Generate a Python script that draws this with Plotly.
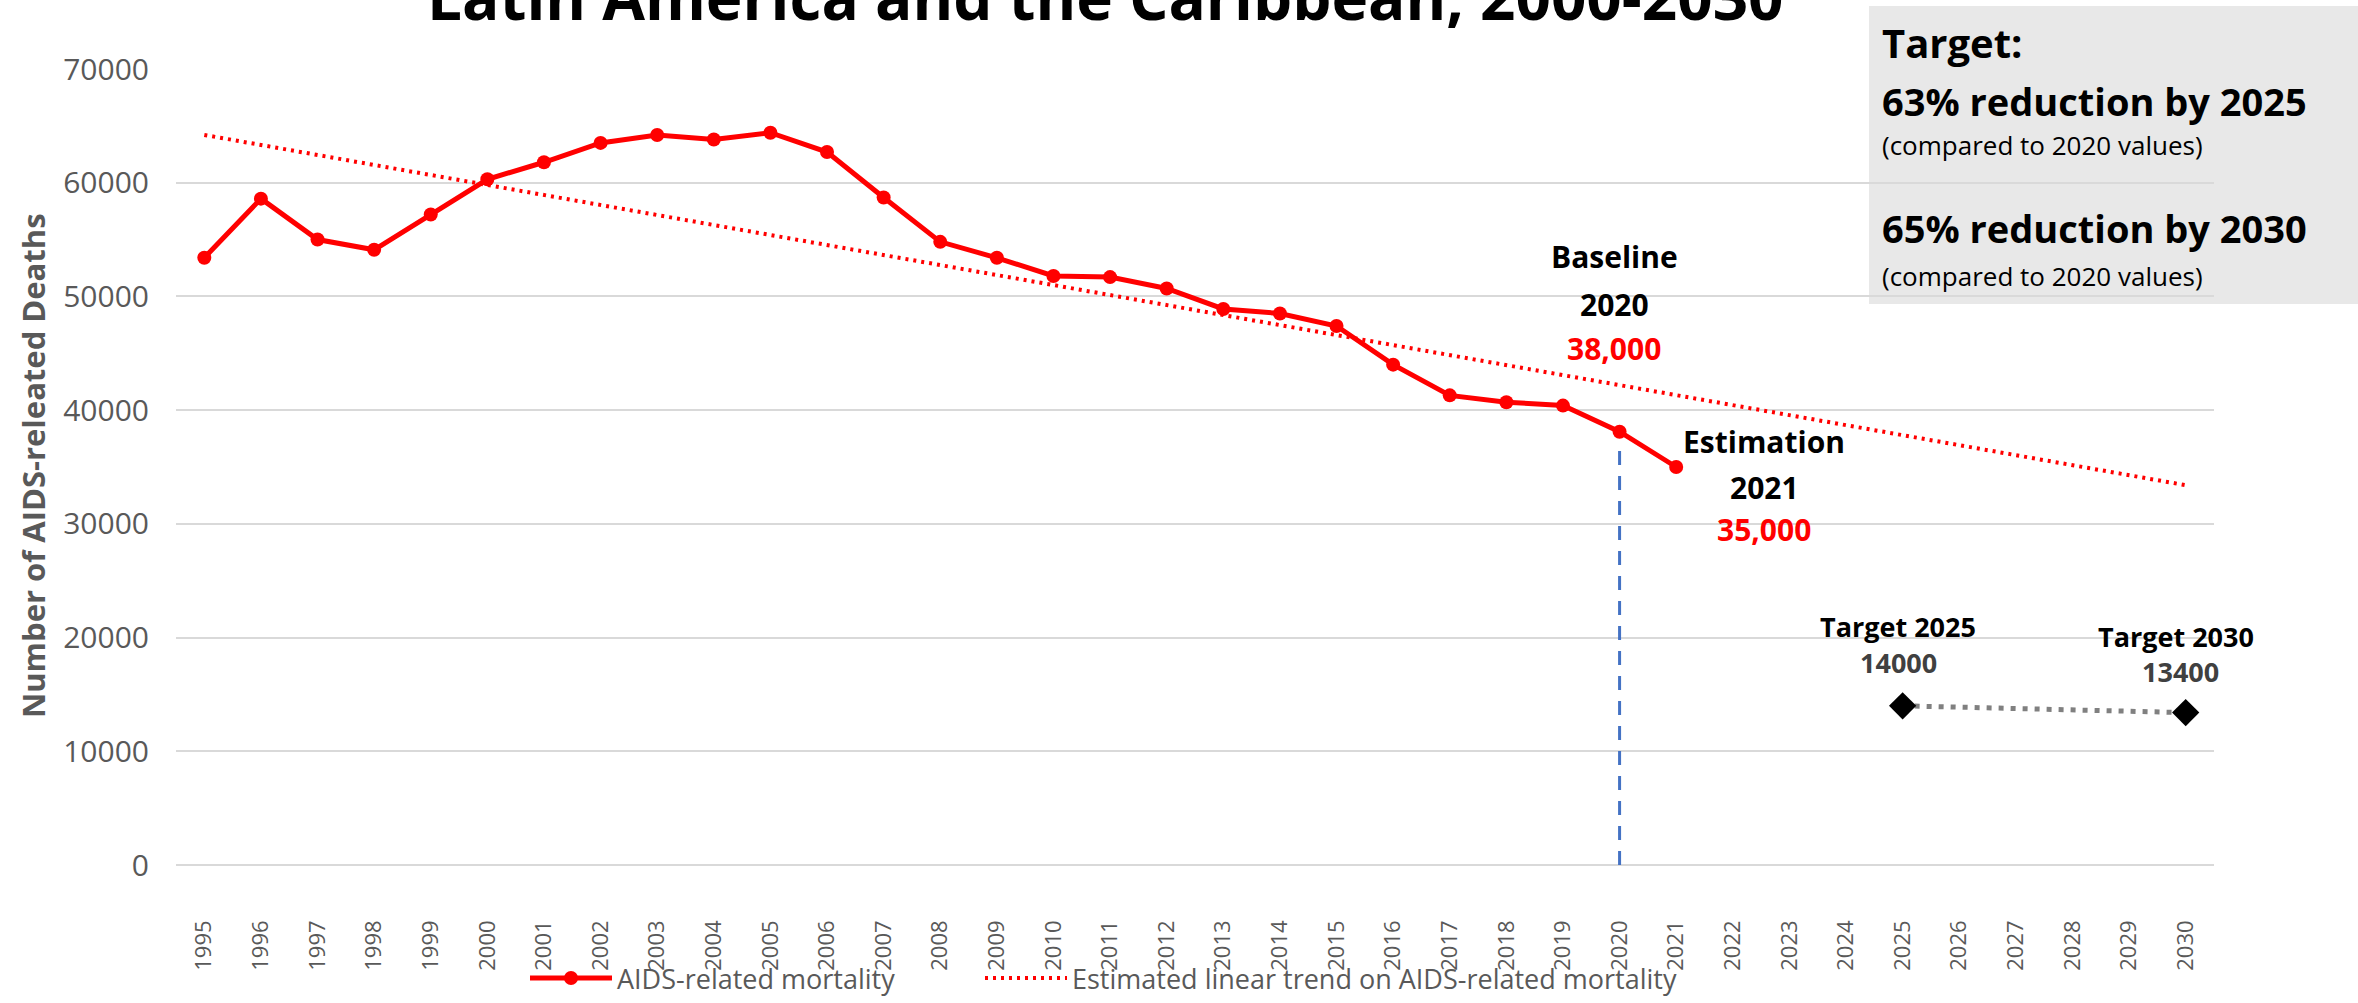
import plotly.graph_objects as go

# datos
years = [1995, 1996, 1997, 1998, 1999, 2000, 2001, 2002, 2003, 2004, 2005, 2006, 2007, 2008,
         2009, 2010, 2011, 2012, 2013, 2014, 2015, 2016, 2017, 2018, 2019, 2020, 2021]
deaths = [53400, 58600, 55000, 54100, 57200, 60300, 61800, 63500, 64200, 63800, 64400, 62700, 58700, 54800,
          53400, 51800, 51700, 50700, 48900, 48500, 47400, 44000, 41300, 40700, 40400, 38100, 35000]

trend_years = [1995, 2030]
trend_values = [64200, 33400]

target_years = [2025, 2030]
target_values = [14000, 13400]

baseline_years = [2020, 2020]
baseline_values = [0, 37000]

tick_years = list(range(1995, 2031))
y_ticks = [0, 10000, 20000, 30000, 40000, 50000, 60000, 70000]

# tamaño de la figura y margenes (px)
W, H = 2358, 1003
L, R, T, B = 176, 144, 69, 138
FONT = "Open Sans"


def px_x(px):
    return (px - L) / (W - L - R)


def px_y(py):
    return (H - B - py) / (H - T - B)


fig = go.Figure()

fig.add_trace(go.Scatter(
    x=trend_years, y=trend_values, mode="lines",
    name="Estimated linear trend on AIDS-related mortality",
    line=dict(color="#FF0000", width=4, dash="3px,5px"),
    legend="legend2",
))

fig.add_trace(go.Scatter(
    x=baseline_years, y=baseline_values, mode="lines", showlegend=False,
    line=dict(color="#4472C4", width=3, dash="14px,11px"),
))

fig.add_trace(go.Scatter(
    x=years, y=deaths, mode="lines+markers",
    name="AIDS-related mortality",
    line=dict(color="#FF0000", width=5),
    marker=dict(color="#FF0000", size=14),
    legend="legend",
))

fig.add_trace(go.Scatter(
    x=target_years, y=target_values, mode="lines+markers", showlegend=False,
    line=dict(color="#808080", width=5, dash="5px,7px"),
    marker=dict(color="#000000", size=21, symbol="diamond"),
))

# caja de metas
fig.add_shape(type="rect", xref="paper", yref="paper", layer="below",
              x0=px_x(1869), x1=px_x(W), y0=px_y(304), y1=px_y(6),
              fillcolor="#E8E8E8", line=dict(width=0))

anotaciones = []


def texto(txt, xp, yp, size, color="#000000", bold=True, xanchor="center"):
    if bold:
        txt = f"<b>{txt}</b>"
    anotaciones.append(dict(
        text=txt, xref="paper", yref="paper", x=px_x(xp), y=px_y(yp),
        xanchor=xanchor, yanchor="middle", showarrow=False,
        font=dict(family=FONT, size=size, color=color)))


# titulo (recortado arriba en la imagen original)
texto("Latin America and the Caribbean, 2000-2030", 1105, -4, 62)

texto("Target:", 1880, 43, 40, xanchor="left")
texto("63% reduction by 2025", 1880, 101, 38, xanchor="left")
texto("(compared to 2020 values)", 1880, 145, 26, bold=False, xanchor="left")
texto("65% reduction by 2030", 1880, 228, 38, xanchor="left")
texto("(compared to 2020 values)", 1880, 276, 26, bold=False, xanchor="left")

texto("Baseline", 1614, 256, 30)
texto("2020", 1614, 304, 30)
texto("38,000", 1614, 348, 30, color="#FF0000")

texto("Estimation", 1764, 441, 30)
texto("2021", 1764, 487, 30)
texto("35,000", 1764, 529, 30, color="#FF0000")

texto("Target 2025", 1898, 626, 27)
texto("14000", 1898, 662, 27, color="#404040")
texto("Target 2030", 2176, 636, 27)
texto("13400", 2180, 671, 27, color="#404040")

anotaciones.append(dict(
    text="<b>Number of AIDS-releated Deaths</b>", textangle=-90,
    xref="paper", yref="paper", x=px_x(33), y=px_y(466),
    xanchor="center", yanchor="middle", showarrow=False,
    font=dict(family=FONT, size=31, color="#595959")))

leyenda = dict(
    orientation="h", xanchor="left",
    yref="container", y=0, yanchor="bottom",
    font=dict(family=FONT, size=27, color="#595959"),
    itemwidth=82, bgcolor="rgba(0,0,0,0)",
)

fig.update_layout(
    width=W, height=H,
    margin=dict(l=L, r=R, t=T, b=B, autoexpand=False),
    plot_bgcolor="white", paper_bgcolor="white",
    font=dict(family=FONT, color="#595959"),
    annotations=anotaciones,
    xaxis=dict(
        range=[1994.5, 2030.5], tickmode="array", tickvals=tick_years,
        ticktext=[str(a) for a in tick_years], tickangle=-90,
        tickfont=dict(size=22, color="#595959"), ticklabelstandoff=50,
        showgrid=False, zeroline=False, showline=False, automargin=False,
    ),
    yaxis=dict(
        range=[0, 70000], tickmode="array", tickvals=y_ticks,
        ticktext=[str(v) for v in y_ticks],
        tickfont=dict(size=30, color="#595959"), ticklabelstandoff=26,
        showgrid=True, gridcolor="#D9D9D9", gridwidth=2,
        zeroline=True, zerolinecolor="#D9D9D9", zerolinewidth=2, showline=False,
        automargin=False,
    ),
    legend=dict(leyenda, x=px_x(525)),
    legend2=dict(leyenda, x=px_x(980)),
    showlegend=True,
)

# sin margen del body para que la figura ocupe la ventana exacta
fig.write_html("out.html", config={"displayModeBar": False},
               post_script="document.body.style.margin='0';")
